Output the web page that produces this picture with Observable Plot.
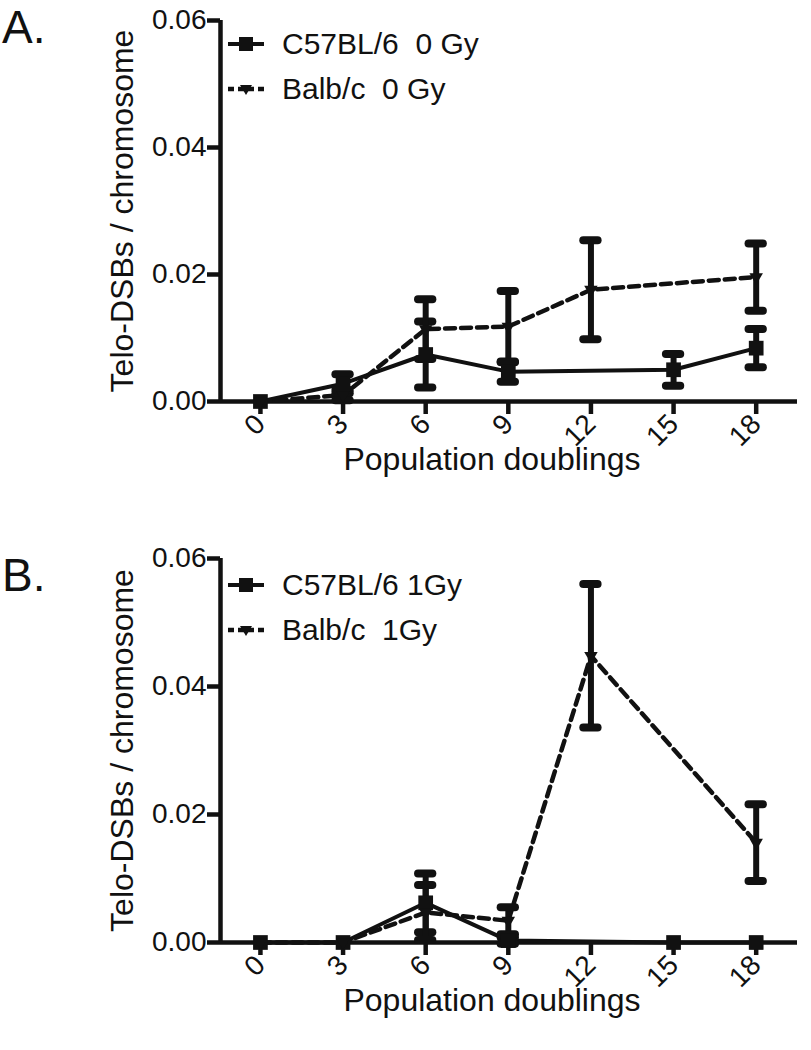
<!DOCTYPE html>
<html>
<head>
<meta charset="utf-8">
<script src="https://cdn.jsdelivr.net/npm/d3@7"></script>
<script src="https://cdn.jsdelivr.net/npm/@observablehq/plot@0.6"></script>
<style>
  html, body { margin: 0; padding: 0; background: #fff; }
  #wrap { position: relative; width: 811px; height: 1050px; font-family: 'Liberation Sans', Arial, sans-serif; color: #111; }
  .panel { position: relative; width: 811px; }
  .plabel { position: absolute; font-size: 46px; line-height: 1; left: 2px; }
  .legend { position: absolute; left: 226px; font-size: 30px; line-height: 1; }
  .legend .row { display: flex; align-items: center; height: 45px; }
  .legend svg { margin-right: 16px; }
</style>
</head>
<body>
<div id="wrap"></div>
<script>
// ---------- data ----------
const doublings = [0, 3, 6, 9, 12, 15, 18];
const yTicks = [0, 0.02, 0.04, 0.06];

// Panel A (0 Gy)
const c57_0Gy_x    = [0, 3, 6, 9, 15, 18];
const c57_0Gy_mean = [0, 0.0028, 0.0074, 0.0047, 0.0050, 0.0084];
const c57_0Gy_err  = [0, 0.0015, 0.0052, 0.0016, 0.0025, 0.0030];

const balb_0Gy_x    = [0, 3, 6, 9, 12, 18];
const balb_0Gy_mean = [0, 0.0010, 0.0114, 0.0118, 0.0176, 0.0196];
const balb_0Gy_err  = [0, 0.0008, 0.0047, 0.0056, 0.0078, 0.0053];

// Panel B (1 Gy)
const c57_1Gy_x    = [0, 3, 6, 9, 15, 18];
const c57_1Gy_mean = [0, 0, 0.0062, 0.0003, 0, 0];
const c57_1Gy_err  = [0, 0, 0.0046, 0.0005, 0, 0];

const balb_1Gy_x    = [0, 3, 6, 9, 12, 18];
const balb_1Gy_mean = [0, 0, 0.0047, 0.0034, 0.0448, 0.0156];
const balb_1Gy_err  = [0, 0, 0.0043, 0.0021, 0.0112, 0.0060];

const legendA = ["C57BL/6  0 Gy", "Balb/c  0 Gy"];
const legendB = ["C57BL/6 1Gy", "Balb/c  1Gy"];
const xTitle = "Population doublings";
const yTitle = "Telo-DSBs / chromosome";

// ---------- drawing ----------
const INK = "#111";
const FONT = "'Liberation Sans', Arial, sans-serif";
const xDomain = [-1.45, 19.5];
const capHalf = 0.26;

const triDown = {
  draw(ctx, size) {
    const a = Math.sqrt(4 * size / Math.sqrt(3));
    const h = a * Math.sqrt(3) / 2;
    ctx.moveTo(0, 2 * h / 3);
    ctx.lineTo(-a / 2, -h / 3);
    ctx.lineTo(a / 2, -h / 3);
    ctx.closePath();
  }
};

function rows(xs, ms, es) {
  return xs.map((x, i) => ({x, m: ms[i], e: es[i]}));
}

function errMarks(data) {
  const d = data.filter(r => r.e > 0);
  return [
    Plot.ruleX(d, {x: "x", y1: r => r.m - r.e, y2: r => r.m + r.e, stroke: INK, strokeWidth: 6}),
    Plot.ruleY(d, {y: r => r.m + r.e, x1: r => r.x - capHalf, x2: r => r.x + capHalf, stroke: INK, strokeWidth: 8, strokeLinecap: "round"}),
    Plot.ruleY(d, {y: r => r.m - r.e, x1: r => r.x - capHalf, x2: r => r.x + capHalf, stroke: INK, strokeWidth: 8, strokeLinecap: "round"})
  ];
}

function panel(c57, balb, height, marginBottom) {
  return Plot.plot({
    width: 811,
    height,
    marginLeft: 220,
    marginRight: 14,
    marginTop: 20,
    marginBottom,
    style: {fontFamily: FONT, fontSize: "28px", color: INK, background: "#fff", overflow: "visible"},
    x: {domain: xDomain},
    y: {domain: [0, 0.06]},
    marks: [
      Plot.ruleY([0], {stroke: INK, strokeWidth: 4.5}),
      Plot.ruleX([xDomain[0]], {stroke: INK, strokeWidth: 4.5}),
      Plot.axisY({ticks: yTicks, tickFormat: d3.format(".2f"), tickSize: 13, tickPadding: 1, strokeWidth: 4.5, label: null}),
      Plot.axisX({ticks: doublings, tickFormat: d => String(d), tickSize: 13, tickPadding: 5, tickRotate: -45, strokeWidth: 4.5, label: null}),
      Plot.text([yTitle], {frameAnchor: "left", dx: -110, rotate: -90, textAnchor: "middle", lineAnchor: "top", fontSize: 32, fill: INK}),
      Plot.text([xTitle], {frameAnchor: "bottom", dx: -17, dy: 46, textAnchor: "middle", lineAnchor: "top", fontSize: 32, fill: INK}),
      Plot.line(c57, {x: "x", y: "m", stroke: INK, strokeWidth: 4}),
      Plot.line(balb, {x: "x", y: "m", stroke: INK, strokeWidth: 4.5, strokeDasharray: "10,6"}),
      ...errMarks(c57),
      ...errMarks(balb),
      Plot.dot(c57, {x: "x", y: "m", symbol: "square", r: 8.3, fill: INK, stroke: null}),
      Plot.dot(balb, {x: "x", y: "m", symbol: triDown, r: 5, fill: INK, stroke: null})
    ]
  });
}

function legendSample(dashed) {
  const ns = "http://www.w3.org/2000/svg";
  const svg = document.createElementNS(ns, "svg");
  svg.setAttribute("width", 40); svg.setAttribute("height", 20);
  const line = document.createElementNS(ns, "line");
  line.setAttribute("x1", 2); line.setAttribute("x2", 38);
  line.setAttribute("y1", 10); line.setAttribute("y2", 10);
  line.setAttribute("stroke", INK);
  line.setAttribute("stroke-width", dashed ? 4.5 : 4);
  if (dashed) line.setAttribute("stroke-dasharray", "6,4");
  svg.appendChild(line);
  const p = document.createElementNS(ns, "path");
  p.setAttribute("fill", INK);
  p.setAttribute("d", dashed ? "M20,16 L14,6 L26,6 Z" : "M13,3 H27 V17 H13 Z");
  svg.appendChild(p);
  return svg;
}

function makePanel(letter, labels, chart, letterTop, legendTop) {
  const div = document.createElement("div");
  div.className = "panel";
  div.appendChild(chart);
  const l = document.createElement("div");
  l.className = "plabel"; l.style.top = letterTop + "px"; l.textContent = letter;
  div.appendChild(l);
  const lg = document.createElement("div");
  lg.className = "legend"; lg.style.top = legendTop + "px";
  labels.forEach((t, i) => {
    const r = document.createElement("div"); r.className = "row";
    r.appendChild(legendSample(i === 1));
    const s = document.createElement("span"); s.textContent = t; s.style.whiteSpace = "pre";
    r.appendChild(s);
    lg.appendChild(r);
  });
  div.appendChild(lg);
  return div;
}

const wrap = document.getElementById("wrap");
wrap.appendChild(makePanel("A.", legendA,
  panel(rows(c57_0Gy_x, c57_0Gy_mean, c57_0Gy_err), rows(balb_0Gy_x, balb_0Gy_mean, balb_0Gy_err), 538, 137), 4, 21));
wrap.appendChild(makePanel("B.", legendB,
  panel(rows(c57_1Gy_x, c57_1Gy_mean, c57_1Gy_err), rows(balb_1Gy_x, balb_1Gy_mean, balb_1Gy_err), 512, 108), 14, 24));
</script>
</body>
</html>
